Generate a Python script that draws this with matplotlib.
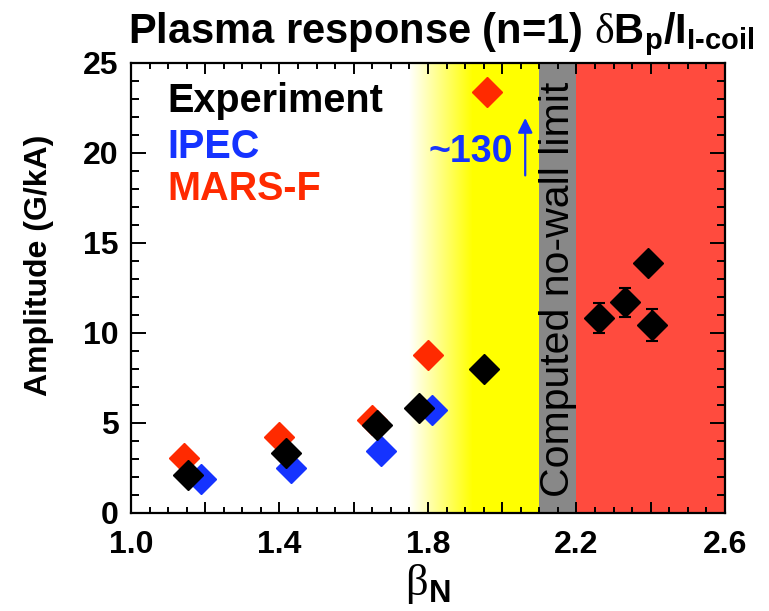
import numpy as np
import matplotlib
matplotlib.use('Agg')
import matplotlib.pyplot as plt
from matplotlib.ticker import MultipleLocator
from matplotlib.colors import LinearSegmentedColormap

plt.rcParams['font.family'] = ['Liberation Sans', 'DejaVu Sans']
plt.rcParams['mathtext.fontset'] = 'custom'
plt.rcParams['mathtext.rm'] = 'Liberation Sans:bold'
plt.rcParams['mathtext.bf'] = 'Liberation Sans:bold'
plt.rcParams['mathtext.sf'] = 'Liberation Serif'

# data
exp_beta = [1.154, 1.418, 1.663, 1.776, 1.951, 2.261, 2.332, 2.394, 2.404]
exp_amp = [2.1, 3.33, 4.9, 5.83, 8.0, 10.83, 11.7, 13.9, 10.44]
exp_err = [0.2, 0.3, 0.3, 0.2, 0.2, 0.85, 0.8, 0.3, 0.9]

ipec_beta = [1.189, 1.431, 1.674, 1.811]
ipec_amp = [1.9, 2.5, 3.44, 5.72]

mars_beta = [1.143, 1.399, 1.650, 1.800, 1.960]
mars_amp = [3.06, 4.2, 5.17, 8.78, 23.4]
mars_err = [0.12, 0.12, 0.12, 0.12, 0.12]

# shaded beta_N regions
fade_start, fade_end = 1.75, 1.92
nowall_lo, nowall_hi = 2.10, 2.20
xmin, xmax = 1.0, 2.6
ymin, ymax = 0, 25

BLUE = '#1533ff'
RED = '#ff2a00'
REDBG = '#ff4b3e'

fig = plt.figure(figsize=(7.69, 6.11), dpi=100)
ax = fig.add_axes([0.1703, 0.1604, 0.7724, 0.7365])

# white -> yellow gradient, then solid yellow, grey band, red region
cmap = LinearSegmentedColormap.from_list('wy', ['#ffffff', '#ffff00'])
grad = np.linspace(0, 1, 256).reshape(1, -1)
ax.imshow(grad, cmap=cmap, aspect='auto', extent=[fade_start, fade_end, ymin, ymax],
          zorder=0, interpolation='bilinear')
ax.axvspan(fade_end, nowall_lo, color='#ffff00', lw=0, zorder=0)
ax.axvspan(nowall_lo, nowall_hi, color='#888888', lw=0, zorder=0)
ax.axvspan(nowall_hi, xmax, color=REDBG, lw=0, zorder=0)

ms = 15.5
ax.errorbar(mars_beta, mars_amp, yerr=mars_err, fmt='D', ms=ms, mfc=RED, mec=RED,
            ecolor='#222222', elinewidth=1.2, capsize=3, capthick=1.2, zorder=3)
ax.plot(ipec_beta, ipec_amp, 'D', ms=ms, color=BLUE, mec=BLUE, zorder=4)
ax.errorbar(exp_beta, exp_amp, yerr=exp_err, fmt='D', ms=ms, mfc='black', mec='black',
            ecolor='black', elinewidth=1.5, capsize=4, capthick=1.5, zorder=5)

ax.set_xlim(xmin, xmax)
ax.set_ylim(ymin, ymax)

ax.set_xticks(np.arange(1.0, 2.61, 0.2))
ax.set_xticklabels(['1.0', '', '1.4', '', '1.8', '', '2.2', '', '2.6'])
ax.xaxis.set_minor_locator(MultipleLocator(0.05))
ax.set_yticks([0, 5, 10, 15, 20, 25])
ax.yaxis.set_minor_locator(MultipleLocator(1))

for sp in ax.spines.values():
    sp.set_linewidth(1.6)
ax.tick_params(which='both', direction='in', top=True, right=True, width=1.4)
ax.tick_params(axis='x', which='major', length=8, pad=12, labelsize=23)
ax.tick_params(axis='x', which='minor', length=4)
ax.tick_params(axis='y', which='major', length=11, pad=9, labelsize=23)
ax.tick_params(axis='y', which='minor', length=6)
for lab in ax.get_xticklabels() + ax.get_yticklabels():
    lab.set_fontweight('bold')

ax.set_xlabel(r'$\mathsf{\beta}_\mathbf{N}$', fontsize=32, labelpad=2)
ax.set_ylabel('Amplitude (G/kA)', fontsize=23, fontweight='bold')
ax.yaxis.set_label_coords(-0.13, 0.55)

fig.text(0.166, 0.930, r'Plasma response (n=1) $\mathsf{\delta}$B$_\mathbf{p}$/I$_\mathbf{I\text{-}coil}$',
         fontsize=30, fontweight='bold', va='baseline', ha='left')

# legend as coloured text
ax.text(1.099, 22.3, 'Experiment', color='black', fontsize=28.5, fontweight='bold', va='baseline')
ax.text(1.099, 19.7, 'IPEC', color=BLUE, fontsize=28.5, fontweight='bold', va='baseline')
ax.text(1.099, 17.4, 'MARS-F', color=RED, fontsize=28.5, fontweight='bold', va='baseline')

ax.text(2.15, 12.4, 'Computed no-wall limit', rotation=90, fontsize=29.5,
        ha='center', va='center', color='black')

ax.annotate('', xy=(2.062, 22.1), xytext=(2.062, 18.6),
            arrowprops=dict(arrowstyle='-|>', color=BLUE, lw=1.6, mutation_scale=22))
ax.text(2.03, 20.06, '~130', color=BLUE, fontsize=27, fontweight='bold', ha='right', va='center')

fig.savefig('out.png', dpi=100)
